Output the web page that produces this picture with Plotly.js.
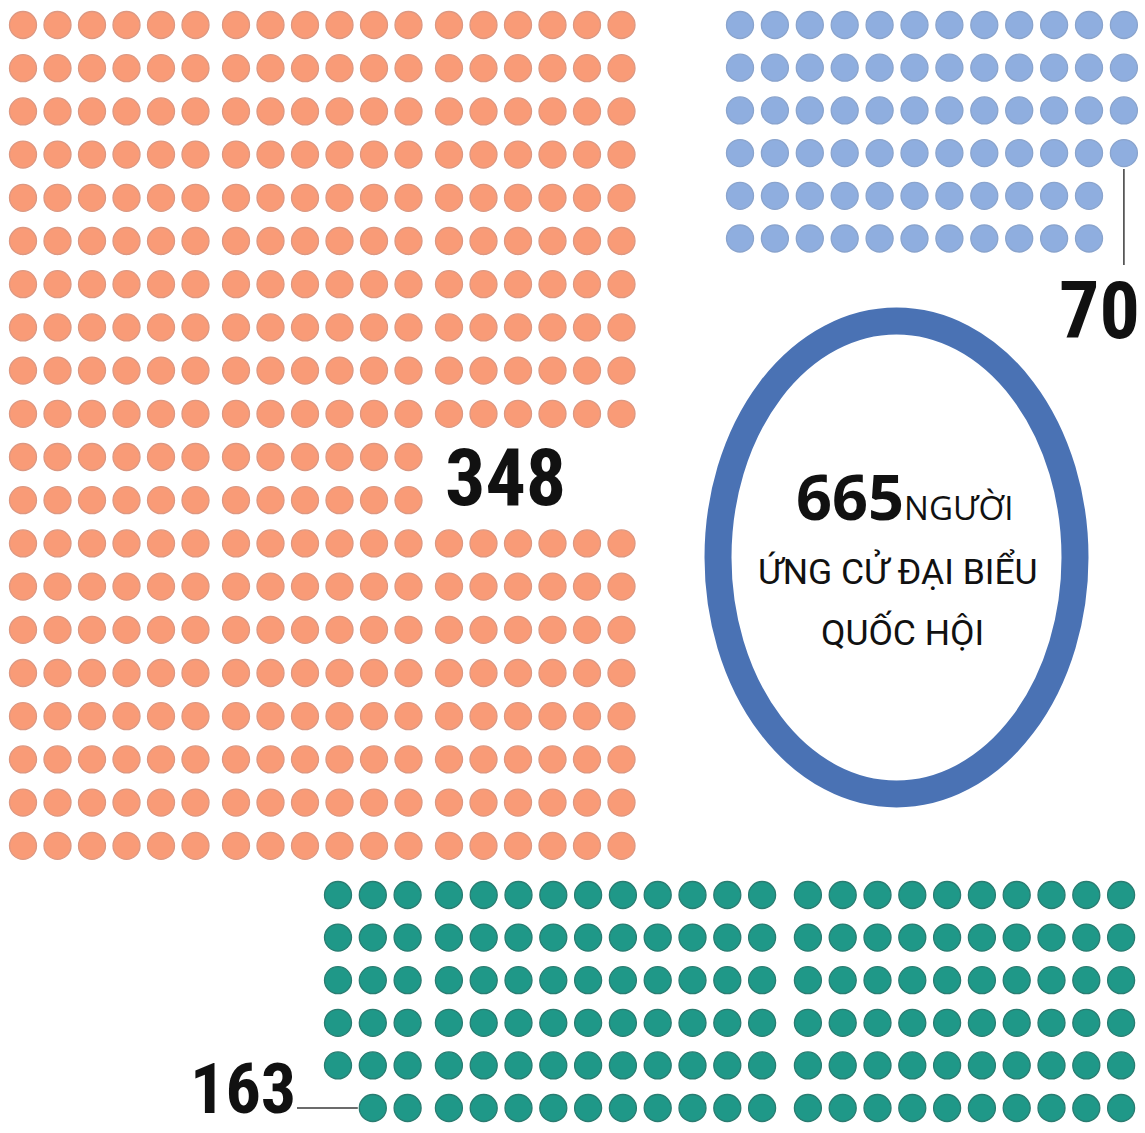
<!DOCTYPE html>
<html>
<head>
<meta charset="utf-8">
<script src="https://cdn.plot.ly/plotly-3.0.1.min.js"></script>
<style>
html,body{margin:0;padding:0;background:#ffffff;}
#chart{width:1145px;height:1133px;}
</style>
</head>
<body>
<div id="chart"></div>
<script>
// ---------------- DATA ----------------
const groupNames   = ['Nhóm cam', 'Nhóm xanh dương', 'Nhóm xanh lục'];
const groupCounts  = [348, 70, 163];           // numbers printed on the chart
const dotsShown    = [348, 70, 137];           // dots visible in the picture
const groupLabels  = ['348', '70', '163'];
const totalCount   = 665;
const totalUnit    = 'NGƯỜI';
const totalCaption = ['ỨNG CỬ ĐẠI BIỂU', 'QUỐC HỘI'];

// ---------------- LAYOUT / STYLE (pixel space) ----------------
const W = 1145, H = 1133;
const grids = [
  { colGroups:[6,6,6], rows:20, x0:23,  dx:34.5, gaps:[6,6],    y0:25,  dy:43.2,
    skip:(r,c)=> (r===10||r===11) && c>=12, fill:'#F99B77', rim:'#DC9882' },
  { colGroups:[12],    rows:6,  x0:740, dx:34.9, gaps:[],       y0:25,  dy:42.7,
    skip:(r,c)=> c===11 && r>=4,            fill:'#8FAEDF', rim:'#8AA4CD' },
  { colGroups:[3,10,10], rows:6, x0:338, dx:34.8, gaps:[6.5,11], y0:895, dy:42.6,
    skip:(r,c)=> r===5 && c===0,             fill:'#1F9888', rim:'#2A7C71' }
];
const DOT = 27;
const numFont = '"Roboto Condensed", "Open Sans", sans-serif';

function colPositions(g){
  const xs = []; let x = g.x0;
  g.colGroups.forEach((n, gi) => {
    for (let i = 0; i < n; i++){ xs.push(x); x += g.dx; }
    if (gi < g.gaps.length) x += g.gaps[gi];
  });
  return xs;
}

const traces = [];
const cellPos = [];
grids.forEach((g, k) => {
  const xs = colPositions(g);
  const px = [], py = [];
  const pos = {xs, ys: []};
  for (let r = 0; r < g.rows; r++) pos.ys.push(g.y0 + r*g.dy);
  for (let r = 0; r < g.rows && px.length < dotsShown[k]; r++){
    for (let c = 0; c < xs.length && px.length < dotsShown[k]; c++){
      if (g.skip(r,c)) continue;
      px.push(xs[c]); py.push(pos.ys[r]);
    }
  }
  cellPos.push(pos);
  traces.push({
    type:'scatter', mode:'markers', x:px, y:py, name:groupNames[k],
    hoverinfo:'skip', showlegend:false,
    marker:{ size:DOT, color:g.fill, line:{ color:g.rim, width:1.3 } }
  });
});

// connector lines (derived from grid cells and label positions)
const bx = cellPos[1].xs[11], by = cellPos[1].ys[3];
traces.push({ type:'scatter', mode:'lines', x:[bx, bx], y:[by + 16, 265],
  line:{ color:'#3a3a3a', width:1.5 }, hoverinfo:'skip', showlegend:false });
const gx = cellPos[2].xs[1], gy = cellPos[2].ys[5];
traces.push({ type:'scatter', mode:'lines', x:[297, gx - 15], y:[gy, gy],
  line:{ color:'#3a3a3a', width:1.5 }, hoverinfo:'skip', showlegend:false });

const annotations = [
  { x:505, y:478, text:groupLabels[0], size:80, ya:'middle' },
  { x:1099, y:311, text:groupLabels[1], size:80, ya:'middle' },
  { x:243, y:1132, text:groupLabels[2], size:70, ya:'bottom' }
].map(a => ({
  x:a.x, y:a.y, xref:'x', yref:'y', text:a.text, showarrow:false,
  xanchor:'center', yanchor:a.ya,
  font:{ family:numFont, size:a.size, color:'#111111', weight:700 }
}));

annotations.push({
  x:904, y:540, xref:'x', yref:'y', showarrow:false, xanchor:'center', yanchor:'bottom',
  text:'<span style="font-size:63px"><b>' + totalCount + '</b></span>' +
       '<span style="font-size:33px">' + totalUnit + '</span>',
  font:{ family:'"Open Sans", sans-serif', size:33, color:'#111111' }
});
annotations.push({
  x:898, y:571, xref:'x', yref:'y', showarrow:false, xanchor:'center', yanchor:'middle',
  text:totalCaption[0],
  font:{ family:'Roboto, "Open Sans", sans-serif', size:35.5, color:'#111111' }
});
annotations.push({
  x:902, y:632, xref:'x', yref:'y', showarrow:false, xanchor:'center', yanchor:'middle',
  text:totalCaption[1],
  font:{ family:'Roboto, "Open Sans", sans-serif', size:35.5, color:'#111111' }
});

const layout = {
  width:W, height:H, margin:{l:0, r:0, t:0, b:0},
  paper_bgcolor:'#ffffff', plot_bgcolor:'#ffffff',
  xaxis:{ range:[0, W], visible:false, fixedrange:true },
  yaxis:{ range:[H, 0], visible:false, fixedrange:true },
  showlegend:false,
  shapes:[{ type:'circle', xref:'x', yref:'y', x0:718, x1:1075, y0:321, y1:794,
            line:{ color:'#4A72B4', width:27 }, fillcolor:'rgba(0,0,0,0)', layer:'below' }],
  annotations
};

Plotly.newPlot('chart', traces, layout, { staticPlot:true, displayModeBar:false });
</script>
</body>
</html>
